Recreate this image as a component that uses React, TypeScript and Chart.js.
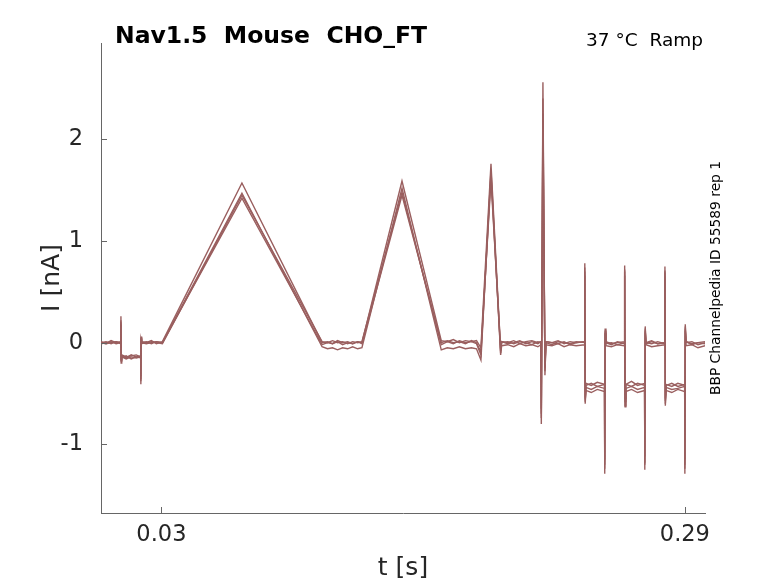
import React, { useEffect, useRef } from "react";
import { Chart, registerables, Plugin } from "chart.js";

Chart.register(...registerables);

// sample times of the ramp protocol (s), shared by all sweeps
const TIME_S = [
  0, 0.0025, 0.005, 0.0075, 0.0098,
  0.0099, 0.01, 0.0103, 0.0125, 0.015, 0.0175, 0.0197,
  0.0198, 0.0199, 0.0202, 0.0225, 0.025, 0.0275, 0.0305,
  0.07,
  0.1098, 0.1125, 0.115, 0.1175, 0.12, 0.1225, 0.125, 0.1275, 0.1296,
  0.1495,
  0.169, 0.172, 0.175, 0.178, 0.181, 0.184, 0.1865,
  0.1887, 0.1937, 0.1985,
  0.199, 0.202, 0.205, 0.208, 0.211, 0.214, 0.217, 0.2185,
  0.2187, 0.2195, 0.2205,
  0.221, 0.224, 0.227, 0.23, 0.233, 0.236, 0.2402,
  0.2403, 0.2405, 0.2409, 0.2435, 0.2465, 0.2501,
  0.2502, 0.2504, 0.2508, 0.2535, 0.2565, 0.26,
  0.2601, 0.2603, 0.2607, 0.2635, 0.2665, 0.27,
  0.2701, 0.2703, 0.2707, 0.2735, 0.2765, 0.28,
  0.2801, 0.2803, 0.2807, 0.2835, 0.2865, 0.2899,
  0.29, 0.2902, 0.2906, 0.2935, 0.2965, 0.3,
];

// current (nA), one array per sweep
const SWEEP_1 = [
  0.01, -0.01, 0.02, 0.0, 0.01,
  0.26, -0.2, -0.13, -0.15, -0.12, -0.14, -0.13,
  -0.41, 0.06, 0.01, 0.0, 0.02, -0.01, 0.01,
  1.57,
  0.0, 0.01, -0.01, 0.02, 0.0, 0.01, -0.01, 0.01, 0.0,
  1.59,
  0.02, 0.01, 0.03, 0.0, 0.02, 0.01, 0.02,
  -0.05, 1.76, -0.08,
  0.01, 0.0, 0.02, -0.01, 0.01, 0.02, 0.0, 0.01,
  -0.8, 2.56, -0.32,
  0.01, 0.0, 0.02, -0.01, 0.01, 0.0, 0.01,
  0.78, -0.58, -0.4, -0.42, -0.39, -0.41,
  -1.29, 0.14, 0.01, -0.01, 0.0, 0.01,
  0.76, -0.63, -0.41, -0.38, -0.42, -0.4,
  -1.25, 0.16, 0.0, 0.02, -0.01, 0.0,
  0.75, -0.62, -0.41, -0.43, -0.4, -0.42,
  -1.29, 0.18, 0.01, -0.02, 0.0, -0.01,
];

const SWEEP_2 = [
  0.0, 0.01, -0.01, 0.01, 0.0,
  0.22, -0.18, -0.15, -0.13, -0.16, -0.14, -0.15,
  -0.38, 0.04, 0.0, 0.01, -0.01, 0.01, 0.0,
  1.47,
  -0.04, -0.06, -0.05, -0.07, -0.05, -0.06, -0.04, -0.06, -0.05,
  1.52,
  -0.07, -0.05, -0.06, -0.04, -0.06, -0.05, -0.06,
  -0.17, 1.7, -0.12,
  -0.03, -0.02, -0.04, -0.01, -0.03, -0.02, -0.04, -0.02,
  -0.74, 2.4, -0.28,
  -0.02, -0.03, -0.01, -0.04, -0.02, -0.03, -0.02,
  0.74, -0.6, -0.44, -0.46, -0.43, -0.45,
  -1.24, 0.12, -0.03, -0.04, -0.02, -0.03,
  0.72, -0.62, -0.45, -0.43, -0.46, -0.44,
  -1.2, 0.14, -0.02, -0.04, -0.03, -0.02,
  0.71, -0.6, -0.44, -0.46, -0.45, -0.43,
  -1.24, 0.16, -0.03, -0.02, -0.05, -0.03,
];

const SWEEP_3 = [
  -0.01, 0.0, 0.01, -0.01, 0.0,
  0.2, -0.17, -0.14, -0.16, -0.14, -0.15, -0.14,
  -0.36, 0.05, -0.01, 0.0, 0.01, 0.0, -0.01,
  1.45,
  0.01, 0.0, 0.02, 0.0, 0.01, -0.01, 0.01, 0.0, 0.01,
  1.48,
  -0.02, 0.01, -0.01, 0.02, 0.0, 0.01, -0.01,
  -0.12, 1.66, -0.1,
  0.0, 0.01, -0.01, 0.01, 0.0, -0.02, 0.01, 0.0,
  -0.7, 2.25, -0.25,
  0.0, -0.02, 0.01, 0.0, -0.01, 0.01, 0.0,
  0.7, -0.56, -0.47, -0.49, -0.46, -0.48,
  -1.2, 0.1, -0.01, 0.0, -0.02, 0.0,
  0.7, -0.58, -0.48, -0.46, -0.49, -0.47,
  -1.18, 0.12, 0.0, -0.01, 0.01, -0.01,
  0.69, -0.57, -0.47, -0.49, -0.46, -0.48,
  -1.2, 0.14, 0.0, 0.01, -0.02, 0.0,
];

const SWEEP_4 = [
  0.0, -0.01, 0.0, 0.01, -0.01,
  0.18, -0.16, -0.12, -0.14, -0.13, -0.12, -0.14,
  -0.33, 0.03, 0.0, -0.01, 0.0, 0.01, 0.0,
  1.42,
  -0.02, 0.0, -0.01, 0.01, -0.02, 0.0, -0.01, 0.01, -0.01,
  1.45,
  0.0, 0.02, 0.0, 0.01, -0.01, 0.02, 0.0,
  -0.09, 1.6, -0.06,
  0.01, -0.01, 0.0, 0.02, -0.01, 0.01, -0.01, 0.01,
  -0.65, 2.1, -0.22,
  0.01, 0.0, -0.01, 0.01, -0.02, 0.0, 0.01,
  0.66, -0.54, -0.42, -0.4, -0.43, -0.41,
  -1.15, 0.09, 0.0, -0.02, 0.01, -0.01,
  0.66, -0.55, -0.41, -0.43, -0.4, -0.42,
  -1.12, 0.1, -0.01, 0.01, -0.01, 0.0,
  0.65, -0.55, -0.42, -0.4, -0.43, -0.41,
  -1.15, 0.12, 0.01, -0.01, 0.0, 0.01,
];

const SWEEPS = [SWEEP_1, SWEEP_2, SWEEP_3, SWEEP_4];

const X_TICKS = [0.03, 0.29];
const Y_TICKS = [-1, 0, 1, 2];

const TITLE = "Nav1.5  Mouse  CHO_FT";
const CONDITION = "37 °C  Ramp";
const SOURCE = "BBP Channelpedia ID 55589 rep 1";

const TRACE_COLOR = "#9a5f5f";
const AXIS_COLOR = "#666666";
const TEXT_COLOR = "#262626";
const FONT = "'DejaVu Sans', sans-serif";

// inward tick marks + the free text around the axes
const decorations: Plugin<"line"> = {
  id: "decorations",
  afterDraw(chart) {
    const { ctx, chartArea, scales } = chart;
    ctx.save();
    ctx.strokeStyle = AXIS_COLOR;
    ctx.lineWidth = 1;
    for (const v of X_TICKS) {
      const x = Math.round(scales.x.getPixelForValue(v)) + 0.5;
      ctx.beginPath();
      ctx.moveTo(x, chartArea.bottom);
      ctx.lineTo(x, chartArea.bottom - 6);
      ctx.stroke();
    }
    for (const v of Y_TICKS) {
      const y = Math.round(scales.y.getPixelForValue(v)) + 0.5;
      ctx.beginPath();
      ctx.moveTo(chartArea.left, y);
      ctx.lineTo(chartArea.left + 6, y);
      ctx.stroke();
    }

    ctx.fillStyle = "#000";
    ctx.textBaseline = "alphabetic";
    ctx.font = `bold 23.5px ${FONT}`;
    ctx.textAlign = "left";
    ctx.fillText(TITLE, 115, 43);

    ctx.font = `18.5px ${FONT}`;
    ctx.textAlign = "right";
    ctx.fillText(CONDITION, 703, 46);

    ctx.translate(720, (chartArea.top + chartArea.bottom) / 2);
    ctx.rotate(-Math.PI / 2);
    ctx.font = `13.8px ${FONT}`;
    ctx.textAlign = "center";
    ctx.fillText(SOURCE, 0, 0);
    ctx.restore();
  },
};

const App: React.FC = () => {
  const canvasRef = useRef<HTMLCanvasElement | null>(null);

  useEffect(() => {
    if (!canvasRef.current) return;
    const chart = new Chart(canvasRef.current, {
      type: "line",
      data: {
        datasets: SWEEPS.map((sweep, i) => ({
          label: `sweep ${i + 1}`,
          data: TIME_S.map((t, k) => ({ x: t, y: sweep[k] })),
          borderColor: TRACE_COLOR,
          borderWidth: 1.4,
          pointRadius: 0,
          tension: 0,
          fill: false,
        })),
      },
      options: {
        responsive: false,
        animation: false,
        layout: { padding: { top: 43, right: 73, bottom: 0, left: 0 } },
        plugins: {
          legend: { display: false },
          tooltip: { enabled: false },
          title: { display: false },
        },
        scales: {
          x: {
            type: "linear",
            min: 0,
            max: 0.3,
            afterBuildTicks: (s) => {
              s.ticks = X_TICKS.map((v) => ({ value: v }));
            },
            afterFit: (s) => {
              s.height = 70;
            },
            grid: { display: false, drawTicks: false },
            border: { display: true, color: AXIS_COLOR, width: 1 },
            ticks: {
              autoSkip: false,
              maxRotation: 0,
              padding: 9,
              color: TEXT_COLOR,
              font: { family: FONT, size: 22.5 },
              callback: (v) => String(v),
            },
            title: {
              display: true,
              text: "t [s]",
              color: TEXT_COLOR,
              font: { family: FONT, size: 25 },
              padding: { top: 0, bottom: 0 },
            },
          },
          y: {
            type: "linear",
            min: -1.675,
            max: 2.947,
            afterBuildTicks: (s) => {
              s.ticks = Y_TICKS.map((v) => ({ value: v }));
            },
            afterFit: (s) => {
              s.width = 101;
            },
            grid: { display: false, drawTicks: false },
            border: { display: true, color: AXIS_COLOR, width: 1 },
            ticks: {
              autoSkip: false,
              padding: 18,
              color: TEXT_COLOR,
              font: { family: FONT, size: 22.5 },
              callback: (v) => String(v),
            },
            title: {
              display: true,
              text: "I [nA]",
              color: TEXT_COLOR,
              font: { family: FONT, size: 25 },
              padding: { top: 37, bottom: 0 },
            },
          },
        },
      },
      plugins: [decorations],
    });
    return () => chart.destroy();
  }, []);

  return (
    <div style={{ position: "absolute", left: 0, top: 0, width: 778, height: 583, background: "#fff" }}>
      <canvas ref={canvasRef} width={778} height={583} />
    </div>
  );
};

export default App;
